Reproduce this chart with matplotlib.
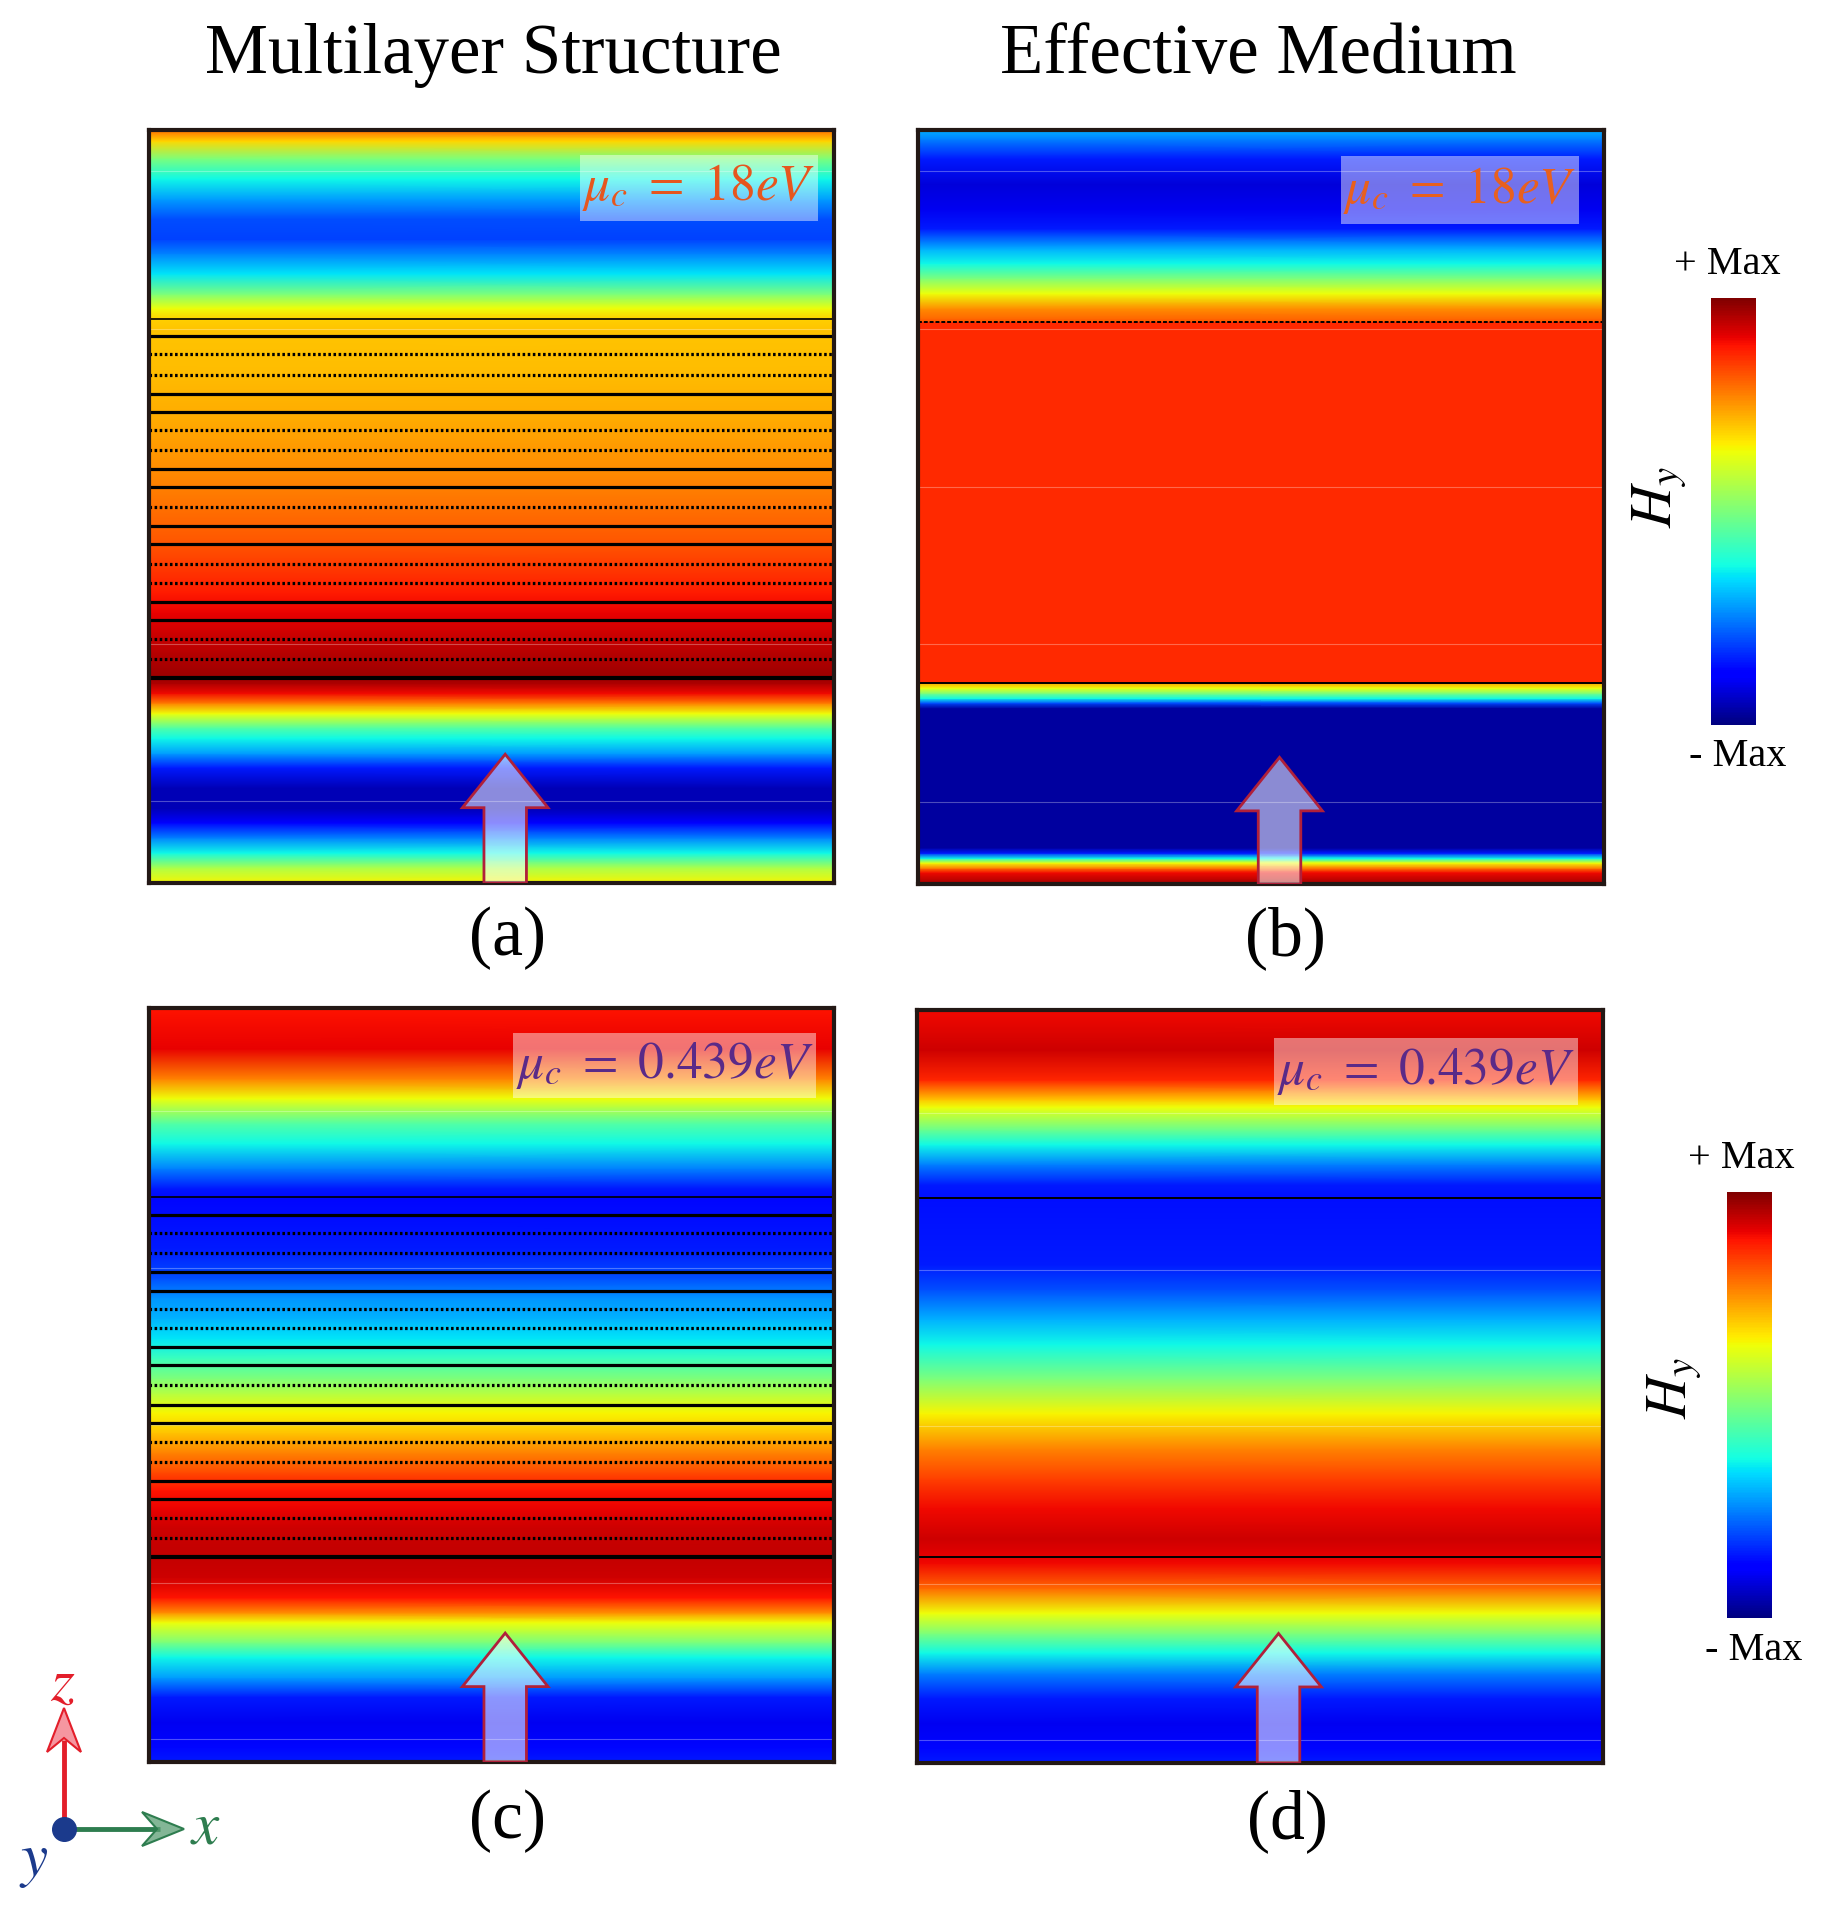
import numpy as np
import matplotlib
matplotlib.use("Agg")
import matplotlib.pyplot as plt
from matplotlib.patches import Rectangle, FancyArrow, Polygon
from matplotlib.cm import ScalarMappable
from matplotlib.colors import Normalize

plt.rcParams['mathtext.fontset'] = 'stix'
serif = 'Liberation Serif'

# field profiles along z (0 = bottom, 1 = top), values normalised to the jet scale (0 = -Max, 1 = +Max)
z_a = [0.0, 0.020, 0.040, 0.060, 0.080, 0.099, 0.126, 0.153, 0.172, 0.192, 0.206, 0.225, 0.239, 0.252, 0.265,
       0.272, 0.279, 0.305, 0.332, 0.358, 0.385, 0.418, 0.451, 0.497, 0.550, 0.617, 0.683, 0.736, 0.749,
       0.763, 0.782, 0.809, 0.836, 0.855, 0.882, 0.908, 0.935, 0.962, 0.985, 1.0]
h_a = [0.65, 0.56, 0.37, 0.25, 0.12, 0.05, 0.05, 0.15, 0.28, 0.37, 0.45, 0.64, 0.78, 0.90, 0.96,
       0.97, 0.97, 0.95, 0.93, 0.91, 0.88, 0.85, 0.82, 0.79, 0.76, 0.73, 0.71, 0.70, 0.69,
       0.64, 0.50, 0.35, 0.25, 0.19, 0.20, 0.28, 0.37, 0.50, 0.68, 0.80]

z_b = [0.0, 0.015, 0.021, 0.028, 0.034, 0.041, 0.048, 0.233, 0.240, 0.246, 0.253, 0.260, 0.266,
       0.266, 0.746, 0.746, 0.750, 0.763, 0.783, 0.803, 0.823, 0.842, 0.869, 0.895, 0.928, 0.962, 0.988, 1.0]
h_b = [0.97, 0.90, 0.78, 0.64, 0.37, 0.15, 0.03, 0.03, 0.20, 0.37, 0.50, 0.64, 0.74,
       0.865, 0.865, 0.82, 0.80, 0.76, 0.64, 0.50, 0.37, 0.30, 0.15, 0.10, 0.08, 0.15, 0.25, 0.30]

z_c = [0.0, 0.020, 0.053, 0.086, 0.112, 0.139, 0.159, 0.185, 0.198, 0.218, 0.245, 0.271, 0.284, 0.311,
       0.334, 0.360, 0.384, 0.410, 0.437, 0.463, 0.489, 0.509, 0.536, 0.562, 0.589, 0.615, 0.642, 0.681,
       0.747, 0.761, 0.787, 0.820, 0.847, 0.880, 0.906, 0.946, 1.0]
h_c = [0.15, 0.13, 0.10, 0.15, 0.28, 0.37, 0.50, 0.64, 0.76, 0.89, 0.93, 0.94, 0.94, 0.93,
       0.91, 0.89, 0.83, 0.77, 0.70, 0.65, 0.57, 0.50, 0.42, 0.35, 0.30, 0.27, 0.20, 0.15,
       0.13, 0.15, 0.25, 0.37, 0.45, 0.64, 0.77, 0.91, 0.89]

z_d = [0.0, 0.020, 0.053, 0.086, 0.119, 0.146, 0.172, 0.199, 0.232, 0.265, 0.273, 0.298, 0.338, 0.377,
       0.417, 0.464, 0.510, 0.556, 0.589, 0.629, 0.662, 0.748, 0.768, 0.795, 0.821, 0.841, 0.871, 0.881,
       0.907, 0.947, 1.0]
h_d = [0.15, 0.13, 0.10, 0.15, 0.25, 0.37, 0.50, 0.64, 0.80, 0.90, 0.91, 0.93, 0.90, 0.84,
       0.77, 0.65, 0.50, 0.37, 0.30, 0.20, 0.15, 0.14, 0.15, 0.25, 0.37, 0.48, 0.64, 0.70,
       0.87, 0.93, 0.90]

# interfaces of the multilayer stack and their drawing style
layer_z = [0.749, 0.726, 0.702, 0.675, 0.650, 0.625, 0.601, 0.575, 0.550, 0.526,
           0.500, 0.474, 0.450, 0.424, 0.398, 0.373, 0.349, 0.324, 0.297, 0.272]
layer_style = ['s', 's', 'd', 'd', 's', 's', 'd', 'd', 's', 's',
               'd', 's', 's', 'd', 'd', 's', 's', 'd', 'd', 's']
slab_b = [0.746, 0.266]
slab_d = [0.750, 0.273]

mu_labels = [r'$\mu_c\ =\ 18eV$', r'$\mu_c\ =\ 18eV$', r'$\mu_c\ =\ 0.439eV$', r'$\mu_c\ =\ 0.439eV$']
panel_tags = ['(a)', '(b)', '(c)', '(d)']
col_titles = ['Multilayer Structure', 'Effective Medium']

W, H = 1823, 1909
fig = plt.figure(figsize=(W / 100, H / 100), dpi=100)


def px_axes(x0, y0, x1, y1):
    # pixel box (top-left origin) -> figure axes
    return fig.add_axes([x0 / W, 1 - y1 / H, (x1 - x0) / W, (y1 - y0) / H])


boxes = [(149, 130, 834, 883), (918, 130, 1604, 884), (149, 1008, 834, 1762), (917, 1010, 1603, 1763)]
profiles = [(z_a, h_a), (z_b, h_b), (z_c, h_c), (z_d, h_d)]
mu_box = [(0.629, 0.879, 0.976, 0.967), (0.616, 0.875, 0.963, 0.965),
          (0.531, 0.880, 0.974, 0.967), (0.520, 0.874, 0.963, 0.963)]
mu_color = ['#E6561E', '#E8601E', '#5A2A88', '#5A2A88']
arrow_x = [0.52, 0.527, 0.52, 0.527]
arrow_tip = [0.171, 0.168, 0.171, 0.172]
faint = [[0.945, 0.736, 0.527, 0.318, 0.109], [0.945, 0.736, 0.527, 0.318, 0.109],
         [0.863, 0.655, 0.447, 0.238, 0.030], [0.863, 0.655, 0.447, 0.238, 0.030]]

for i, (bx, (zz, hh)) in enumerate(zip(boxes, profiles)):
    ax = px_axes(*bx)
    C = np.column_stack([hh, hh])
    ax.pcolormesh([0, 1], zz, C, shading='gouraud', cmap='jet', vmin=0, vmax=1)
    ax.set_xlim(0, 1)
    ax.set_ylim(0, 1)
    ax.set_xticks([])
    ax.set_yticks([])
    for s in ax.spines.values():
        s.set_linewidth(3)
        s.set_color('#231815')

    for fz in faint[i]:
        ax.axhline(fz, color='white', lw=0.8, alpha=0.3)

    if i in (0, 2):
        for k, (lz, st) in enumerate(zip(layer_z, layer_style)):
            lw = 1.2 if k == 0 else (3.0 if k == len(layer_z) - 1 else 2.3)
            ls = '-' if st == 's' else (0, (0.8, 0.8))
            ax.axhline(lz, color='black', lw=lw, ls=ls)
    elif i == 1:
        ax.axhline(slab_b[0], color='black', lw=1.4, ls=(0, (2, 1)))
        ax.axhline(slab_b[1], color='black', lw=1.4)
    else:
        ax.axhline(slab_d[0], color='black', lw=1.4)
        ax.axhline(slab_d[1], color='black', lw=1.4)

    x0, y0, x1, y1 = mu_box[i]
    ax.add_patch(Rectangle((x0, y0), x1 - x0, y1 - y0, fc=(1, 1, 1, 0.45), ec='none', zorder=4))
    ax.text((x0 + x1) / 2, (y0 + y1) / 2, mu_labels[i], color=mu_color[i], fontsize=37,
            ha='center', va='center', zorder=5)

    ax.add_patch(FancyArrow(arrow_x[i], 0.0, 0, arrow_tip[i], width=0.062, head_width=0.125,
                            head_length=0.071, length_includes_head=True,
                            fc=(1, 1, 1, 0.55), ec='#B0203A', lw=2, zorder=4))

# colour bars
for (x0, y0, x1, y1) in [(1711, 298, 1756, 725), (1727, 1192, 1772, 1618)]:
    cax = px_axes(x0, y0, x1, y1)
    cb = fig.colorbar(ScalarMappable(norm=Normalize(0, 1), cmap='jet'), cax=cax)
    cb.set_ticks([])
    cb.outline.set_visible(False)

# overlay in pixel coordinates for the free text and the axis triad
ov = fig.add_axes([0, 0, 1, 1])
ov.set_xlim(0, W)
ov.set_ylim(H, 0)
ov.axis('off')
ov.patch.set_alpha(0)

ov.text(493, 55, col_titles[0], fontsize=51, family=serif, ha='center', va='center')
ov.text(1258, 55, col_titles[1], fontsize=51, family=serif, ha='center', va='center')
for tag, (tx, ty) in zip(panel_tags, [(508, 938), (1285, 938), (508, 1821), (1287, 1821)]):
    ov.text(tx, ty, tag, fontsize=50, family=serif, ha='center', va='center')

for (px, py, mx, my, hx, hy) in [(1727, 264, 1738, 756, 1659, 497), (1741, 1158, 1754, 1650, 1674, 1388)]:
    ov.text(px, py, '+ Max', fontsize=29, family=serif, ha='center', va='center')
    ov.text(mx, my, '- Max', fontsize=29, family=serif, ha='center', va='center')
    ov.text(hx, hy, r'$H_y$', fontsize=42, rotation=90, ha='center', va='center')

# axis triad: shafts, notched heads, origin dot
ox, oy = 64, 1829
ov.plot([ox, ox], [oy, 1740], color='#E31E2A', lw=3.5, solid_capstyle='butt')
ov.plot([ox, 160], [oy, oy], color='#2E7D4F', lw=3.5, solid_capstyle='butt')
ov.add_patch(Polygon([(ox, 1708), (ox + 17, 1752), (ox, 1738), (ox - 17, 1752)], closed=True,
                     fc=(0.95, 0.45, 0.5, 0.75), ec='#E31E2A', lw=1.5, zorder=4))
ov.add_patch(Polygon([(184, oy), (142, oy - 17), (157, oy), (142, oy + 17)], closed=True,
                     fc=(0.35, 0.62, 0.45, 0.75), ec='#2E7D4F', lw=1.5, zorder=4))
ov.plot(ox, oy, 'o', ms=17, color='#1B3A8C', zorder=5)
ov.text(63, 1683, r'$z$', color='#E31E2A', fontsize=44, ha='center', va='center')
ov.text(205, 1827, r'$x$', color='#2E7D4F', fontsize=44, ha='center', va='center')
ov.text(34, 1860, r'$y$', color='#1B3A8C', fontsize=44, ha='center', va='center')

fig.savefig('out.png', dpi=100)
